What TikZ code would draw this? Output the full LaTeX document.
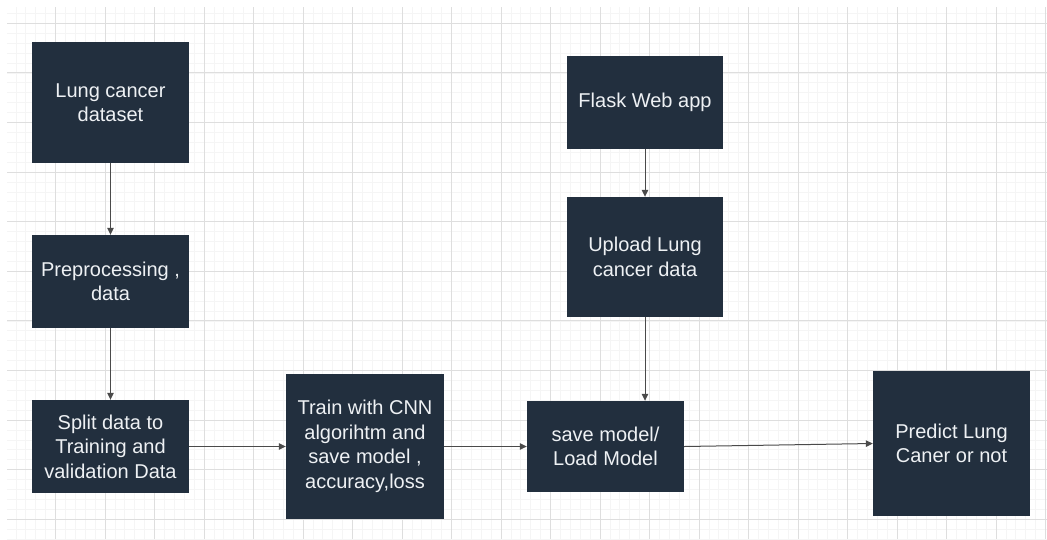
\documentclass[tikz,border=0pt]{standalone}
\usepackage{fontspec}
\setmainfont{Liberation Sans}
\usetikzlibrary{arrows.meta}
\definecolor{boxfill}{HTML}{222F3E}
\definecolor{boxtext}{HTML}{EEF1F4}
\definecolor{gridmajor}{HTML}{DEDEDE}
\definecolor{gridminor}{HTML}{F5F5F5}
\definecolor{linkcol}{HTML}{4A4A4A}
\tikzset{
  stepbox/.style={draw=none, fill=boxfill, text=boxtext, rectangle, inner sep=0pt,
    align=center, font=\fontsize{20}{24.5}\selectfont},
  link/.style={draw=linkcol, line width=1pt, -{Triangle[length=7pt,width=6.5pt]}},
  minorline/.style={draw=gridminor, line width=0.8pt},
  majorline/.style={draw=gridmajor, line width=1pt},
}
\begin{document}
\begin{tikzpicture}[x=1pt, y=-1pt]
  % page and background
  \fill[white] (0,0) rectangle (1047,539);
  \useasboundingbox (0,0) rectangle (1047,539);
  % drawing-canvas grid
  \begin{scope}
    \clip (7,7) rectangle (1047,539);
    \foreach \k in {-1,...,106} \draw[minorline] ({6+9.9*\k},0) -- ++(0,539);
    \foreach \k in {-3,...,52} \draw[minorline] (0,{23.3+9.92*\k}) -- ++(1047,0);
    \foreach \k in {0,...,21} \draw[majorline] ({6+49.5*\k},0) -- ++(0,539);
    \foreach \k in {-1,...,11} \draw[majorline] (0,{23.3+49.6*\k}) -- ++(1047,0);
  \end{scope}

  % process steps
  \node[stepbox, minimum width=157pt, minimum height=121pt] (data)    at (110.5,102.5) {Lung cancer\\dataset};
  \node[stepbox, minimum width=157pt, minimum height=93pt]  (prep)    at (110.5,281.5) {Preprocessing ,\\data};
  \node[stepbox, minimum width=157pt, minimum height=93pt]  (split)   at (110.5,446.5) {Split data to\\Training and\\validation Data};
  \node[stepbox, minimum width=158pt, minimum height=145pt] (train)   at (365,446.5)   {Train with CNN\\algorihtm and\\save model ,\\accuracy,loss};
  \node[stepbox, minimum width=157pt, minimum height=91pt]  (save)    at (605.5,446.5) {save model/\\Load Model};
  \node[stepbox, minimum width=156pt, minimum height=93pt]  (flask)   at (645,102.5)   {Flask Web app};
  \node[stepbox, minimum width=156pt, minimum height=120pt] (upload)  at (645,257)     {Upload Lung\\cancer data};
  \node[stepbox, minimum width=157pt, minimum height=145pt] (predict) at (951.5,443.5) {Predict Lung\\Caner or not};

  % connectors
  \draw[link] (data) -- (prep);
  \draw[link] (prep) -- (split);
  \draw[link] (split) -- (train);
  \draw[link] (train) -- (save);
  \draw[link] (flask) -- (upload);
  \draw[link] (upload.south) -- (upload.south |- save.north);
  \draw[link] (save.east) -- (predict.west);
\end{tikzpicture}
\end{document}
